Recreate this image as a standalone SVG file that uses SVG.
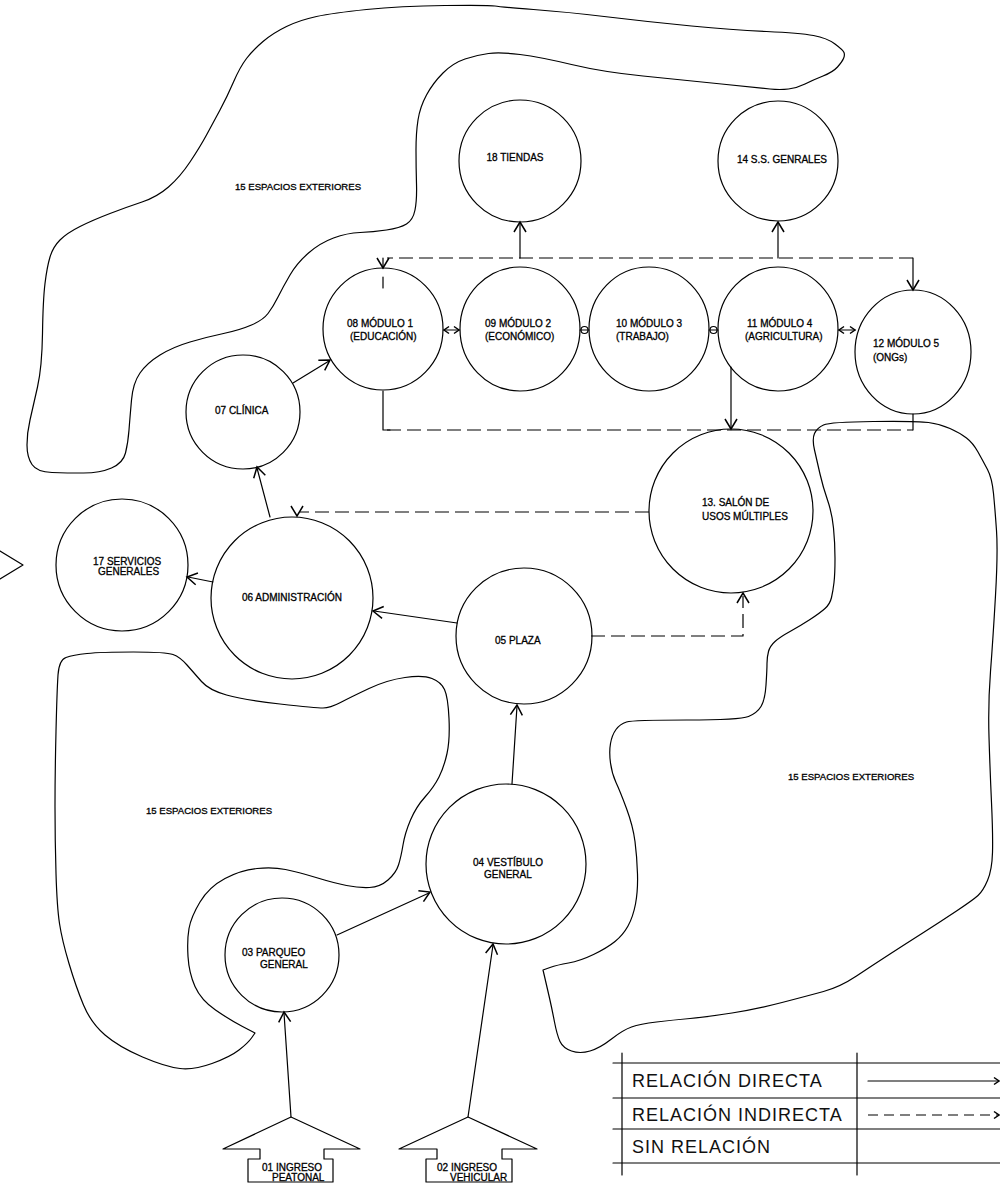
<svg xmlns="http://www.w3.org/2000/svg" xmlns:xlink="http://www.w3.org/1999/xlink" width="1000" height="1191" viewBox="0 0 1000 1191">
<style>
.ln{fill:none;stroke:#000;stroke-width:1.2;stroke-linejoin:round;stroke-linecap:round}
.nd{fill:none;stroke:#000;stroke-width:1.2}
.ds{stroke-dasharray:14 6;stroke-linecap:butt}
.lds{stroke-dasharray:10 6;stroke-linecap:butt}
.ar{fill:none;stroke:#000;stroke-width:1.5;stroke-linejoin:miter}
.t{font-family:"Liberation Sans",Arial,sans-serif;font-size:10px;fill:#000;stroke:#000;stroke-width:0.3}
.z{font-size:9.6px}
.lg{font-family:"Liberation Sans",Arial,sans-serif;font-size:18px;letter-spacing:1px;fill:#111}
</style>
<defs>
<path id="chev" d="M-10,-6 L0,0 L-10,6"/>
<path id="chs" d="M-5,-3.5 L0,0 L-5,3.5"/>
</defs>
<rect width="1000" height="1191" fill="#fff"/>

<g id="zones">
<path class="ln" d="M366.5,9.5 Q400,6 445,5.5 Q490,5 495,6 Q500,7 533.5,9.5 Q567,12 608.5,17 Q650,22 691.5,26 Q733,30 766.5,31.5 Q800,33 813.5,35.5 Q827,38 835,44 Q843,50 844,52.5 Q845,55 843.5,58.5 Q842,62 837.5,67 Q833,72 823,76 Q813,80 805,84 Q797,88 788.5,89 Q780,90 770,89 Q760,88 721.5,84 Q683,80 643,76 Q603,72 571.5,64.5 Q540,57 520,54.5 Q500,52 488.5,53.5 Q477,55 465,59 Q453,63 443,73 Q433,83 426.5,95 Q420,107 418,120 Q416,133 416,150 Q416,167 416.5,183.5 Q417,200 415,210 Q413,220 406.5,224 Q400,228 386.5,230 Q373,232 360,232.5 Q347,233 333.5,238 Q320,243 308.5,253 Q297,263 290,275 Q283,287 278,297 Q273,307 268,313.5 Q263,320 251.5,325 Q240,330 223.5,333.5 Q207,337 190,342 Q173,347 160,355 Q147,363 140,373 Q133,383 131.5,400 Q130,417 129,430 Q128,443 125.5,453 Q123,463 111.5,468 Q100,473 83.5,473 Q67,473 52,472.5 Q37,472 32,464.5 Q27,457 27,445 Q27,433 30,420 Q33,407 37.5,387 Q42,367 42.5,333.5 Q43,300 45,283.5 Q47,267 50,257 Q53,247 60,240 Q67,233 80,226.5 Q93,220 110,213.5 Q127,207 142,202 Q157,197 168.5,187 Q180,177 190,162 Q200,147 206.5,135 Q213,123 220,110 Q227,97 233.5,82 Q240,67 246.5,58.5 Q253,50 263,41.5 Q273,33 286.5,26.5 Q300,20 316.5,16.5 Q333,13 366.5,9.5 Z"/>
<path class="ln" d="M58,675 Q59,660 66,657.5 Q73,655 87,653.5 Q101,652 133.5,652 Q166,652 173,654.5 Q180,657 187,665 Q194,673 201.5,681.5 Q209,690 226.5,695 Q244,700 280,704 Q316,708 323,708 Q330,708 340.5,702.5 Q351,697 369,688.5 Q387,680 405,677.5 Q423,675 432,678.5 Q441,682 444.5,689.5 Q448,697 449,718.5 Q450,740 447,753.5 Q444,767 439,777 Q434,787 425,797 Q416,807 410.5,820 Q405,833 403,845 Q401,857 398.5,865 Q396,873 388,880 Q380,887 369.5,887.5 Q359,888 346.5,885.5 Q334,883 316,877.5 Q298,872 285.5,869.5 Q273,867 257,868.5 Q241,870 225,878.5 Q209,887 200,902 Q191,917 189,928.5 Q187,940 188,956.5 Q189,973 195,986.5 Q201,1000 215.5,1010 Q230,1020 242.5,1026.5 L255,1033 L251.5,1038 Q248,1043 239,1050 Q230,1057 212,1063.5 Q194,1070 180,1068.5 Q166,1067 142.5,1057 Q119,1047 105,1035 Q91,1023 83.5,1005 Q76,987 69,963.5 Q62,940 59.5,923.5 Q57,907 56,873.5 Q55,840 55,806.5 Q55,773 56,731.5 Q57,690 58,675 Z"/>
<path class="ln" d="M814.5,433.5 Q817,428 823.5,425 Q830,422 873.5,421.5 Q917,421 928.5,422.5 Q940,424 950,428.5 Q960,433 966.5,438 Q973,443 978,452 Q983,461 987.5,469.5 Q992,478 993.5,493.5 Q995,509 996.5,530.5 Q998,552 995.5,595.5 Q993,639 990.5,671.5 Q988,704 989,737 Q990,770 991.5,802.5 Q993,835 992.5,852.5 Q992,870 987.5,880.5 Q983,891 978,895.5 Q973,900 956.5,911 Q940,922 923.5,932.5 Q907,943 890,954 Q873,965 856.5,976 Q840,987 823.5,991.5 Q807,996 782,1002.5 Q757,1009 732,1013 Q707,1017 690,1018.5 Q673,1020 656.5,1022 Q640,1024 631.5,1027 Q623,1030 611.5,1039 Q600,1048 590,1051 Q580,1054 571.5,1051 Q563,1048 560,1041.5 Q557,1035 554.5,1022 Q552,1009 549.5,998 Q547,987 545,978.5 L543,970 L550,967.5 Q557,965 568.5,963 Q580,961 593.5,954.5 Q607,948 615,941.5 Q623,935 628,926 Q633,917 635.5,904 Q638,891 637.5,874 Q637,857 635,841.5 Q633,826 626.5,808.5 Q620,791 616,782.5 Q612,774 610.5,763 Q609,752 610.5,743.5 Q612,735 616,729.5 Q620,724 626.5,722 Q633,720 686.5,720 Q740,720 748.5,716.5 Q757,713 761,706.5 Q765,700 766,685 Q767,670 767,663.5 Q767,657 768.5,651.5 Q770,646 775,641.5 Q780,637 790,631.5 Q800,626 810,619.5 Q820,613 825,608.5 Q830,604 831.5,597.5 Q833,591 834,582.5 Q835,574 835,558.5 Q835,543 833.5,528 Q832,513 827.5,500 Q823,487 820,474 Q817,461 814.5,450 Q812,439 814.5,433.5 Z"/>
<polyline class="ln" points="0,551 23,565 0,579"/>
<text class="t z" x="298" y="190" text-anchor="middle">15 ESPACIOS EXTERIORES</text>
<text class="t z" x="209" y="814" text-anchor="middle">15 ESPACIOS EXTERIORES</text>
<text class="t z" x="851" y="780" text-anchor="middle">15 ESPACIOS EXTERIORES</text>
</g>

<g id="connectors">
<path class="ln ds" d="M913,258 H387"/>
<path class="ln" d="M913,258 V288"/>
<path class="ln" d="M383,258 V268 M383,277 V288"/>
<path class="ln ds" d="M387,430 H913"/>
<path class="ln" d="M383,391 V430 H390 M913,414 V430"/>
<path class="ln ds" d="M649,512 H300"/>
<path class="ln ds" d="M591,636 H743 V596"/>
<path class="ln" d="M520,258 V223"/>
<path class="ln" d="M778,258 V223"/>
<path class="ln" d="M731,367 V428"/>
<path class="ln" d="M293,383 L329,361"/>
<path class="ln" d="M270,517 L257,468"/>
<path class="ln" d="M213,582 L188,577"/>
<path class="ln" d="M457,623 L374,611"/>
<path class="ln" d="M512,784 L517,706"/>
<path class="ln" d="M337,935 L429,893"/>
<path class="ln" d="M468,1117 L493,945"/>
<path class="ln" d="M291,1117 L284,1013"/>
<path class="ln" d="M444,330 H459 M839,330 H855 M580,330 H589 M709,330 H718"/>
<circle class="nd" cx="584.5" cy="330" r="3.5"/>
<circle class="nd" cx="713.5" cy="330" r="3.5"/>
<use href="#chev" class="ar" transform="translate(520,222) rotate(-90)"/>
<use href="#chev" class="ar" transform="translate(778,222) rotate(-90)"/>
<use href="#chev" class="ar" transform="translate(913,290) rotate(90)"/>
<use href="#chev" class="ar" transform="translate(383,268) rotate(90)"/>
<use href="#chev" class="ar" transform="translate(731,429) rotate(90)"/>
<use href="#chev" class="ar" transform="translate(743,593) rotate(-90)"/>
<use href="#chev" class="ar" transform="translate(297,516) rotate(90)"/>
<use href="#chev" class="ar" transform="translate(330,360) rotate(-31.9)"/>
<use href="#chev" class="ar" transform="translate(257,467) rotate(-104.6)"/>
<use href="#chev" class="ar" transform="translate(187,577) rotate(-169)"/>
<use href="#chev" class="ar" transform="translate(373,611) rotate(-172)"/>
<use href="#chev" class="ar" transform="translate(517,705) rotate(-86.4)"/>
<use href="#chev" class="ar" transform="translate(430,892) rotate(-24.8)"/>
<use href="#chev" class="ar" transform="translate(493,944) rotate(-81.8)"/>
<use href="#chev" class="ar" transform="translate(284,1012) rotate(-93.8)"/>
<use href="#chs" class="ar" transform="translate(459,330)"/>
<use href="#chs" class="ar" transform="translate(444,330) rotate(180)"/>
<use href="#chs" class="ar" transform="translate(855,330)"/>
<use href="#chs" class="ar" transform="translate(839,330) rotate(180)"/>
</g>

<g id="n18"><circle class="nd" cx="520" cy="161" r="61"/><text class="t" x="515" y="161" text-anchor="middle">18 TIENDAS</text></g>
<g id="n14"><circle class="nd" cx="778" cy="161" r="60"/><text class="t" x="782" y="163" text-anchor="middle">14 S.S. GENRALES</text></g>
<g id="n08"><ellipse class="nd" cx="383" cy="329" rx="60" ry="61"/><text class="t" x="347" y="327">08 MÓDULO 1</text><text class="t" x="350" y="340">(EDUCACIÓN)</text></g>
<g id="n09"><ellipse class="nd" cx="520" cy="329" rx="60" ry="62"/><text class="t" x="485" y="327">09 MÓDULO 2</text><text class="t" x="485" y="340">(ECONÓMICO)</text></g>
<g id="n10"><ellipse class="nd" cx="649" cy="329" rx="60" ry="62"/><text class="t" x="616" y="327">10 MÓDULO 3</text><text class="t" x="616" y="340">(TRABAJO)</text></g>
<g id="n11"><ellipse class="nd" cx="778" cy="329" rx="60" ry="62"/><text class="t" x="747" y="327">11 MÓDULO 4</text><text class="t" x="745" y="340">(AGRICULTURA)</text></g>
<g id="n12"><ellipse class="nd" cx="913" cy="352" rx="58" ry="62"/><text class="t" x="873" y="347">12 MÓDULO 5</text><text class="t" x="873" y="361">(ONGs)</text></g>
<g id="n07"><circle class="nd" cx="243" cy="412" r="57"/><text class="t" x="215" y="414">07 CLÍNICA</text></g>
<g id="n17"><circle class="nd" cx="122" cy="565" r="66"/><text class="t" x="93" y="565">17 SERVICIOS</text><text class="t" x="98" y="575">GENERALES</text></g>
<g id="n06"><circle class="nd" cx="292" cy="598" r="81"/><text class="t" x="242" y="601">06 ADMINISTRACIÓN</text></g>
<g id="n13"><circle class="nd" cx="731" cy="511" r="82"/><text class="t" x="702" y="506">13. SALÓN DE</text><text class="t" x="702" y="520">USOS MÚLTIPLES</text></g>
<g id="n05"><circle class="nd" cx="524" cy="636" r="68"/><text class="t" x="495" y="644">05 PLAZA</text></g>
<g id="n04"><circle class="nd" cx="506" cy="864" r="80"/><text class="t" x="473" y="866">04 VESTÍBULO</text><text class="t" x="484" y="878">GENERAL</text></g>
<g id="n03"><circle class="nd" cx="282" cy="955" r="57"/><text class="t" x="242" y="956">03 PARQUEO</text><text class="t" x="260" y="968">GENERAL</text></g>
<g id="n01"><polygon class="ln" points="291,1117 360,1149 324,1149 324,1159 333,1159 333,1182 248,1182 248,1159 260,1159 260,1149 223,1149"/><text class="t" x="262" y="1171">01 INGRESO</text><text class="t" x="272" y="1181">PEATONAL</text></g>
<g id="n02"><polygon class="ln" points="468,1117 537,1149 502,1149 502,1159 512,1159 512,1182 426,1182 426,1159 437,1159 437,1149 399,1149"/><text class="t" x="437" y="1171">02 INGRESO</text><text class="t" x="450" y="1181">VEHICULAR</text></g>

<g id="legend">
<path class="ln" d="M613,1063 H1000 M613,1098 H1000 M613,1129 H1000 M613,1163 H1000 M622,1053 V1175 M857,1053 V1175"/>
<text class="lg" x="632" y="1087">RELACIÓN DIRECTA</text>
<text class="lg" x="632" y="1121">RELACIÓN INDIRECTA</text>
<text class="lg" x="632" y="1153">SIN RELACIÓN</text>
<path class="ln" d="M868,1081 H998"/>
<path class="ln lds" d="M868,1115 H998"/>
<use href="#chs" class="ar" transform="translate(999,1081)"/>
<use href="#chs" class="ar" transform="translate(999,1115)"/>
</g>
</svg>
